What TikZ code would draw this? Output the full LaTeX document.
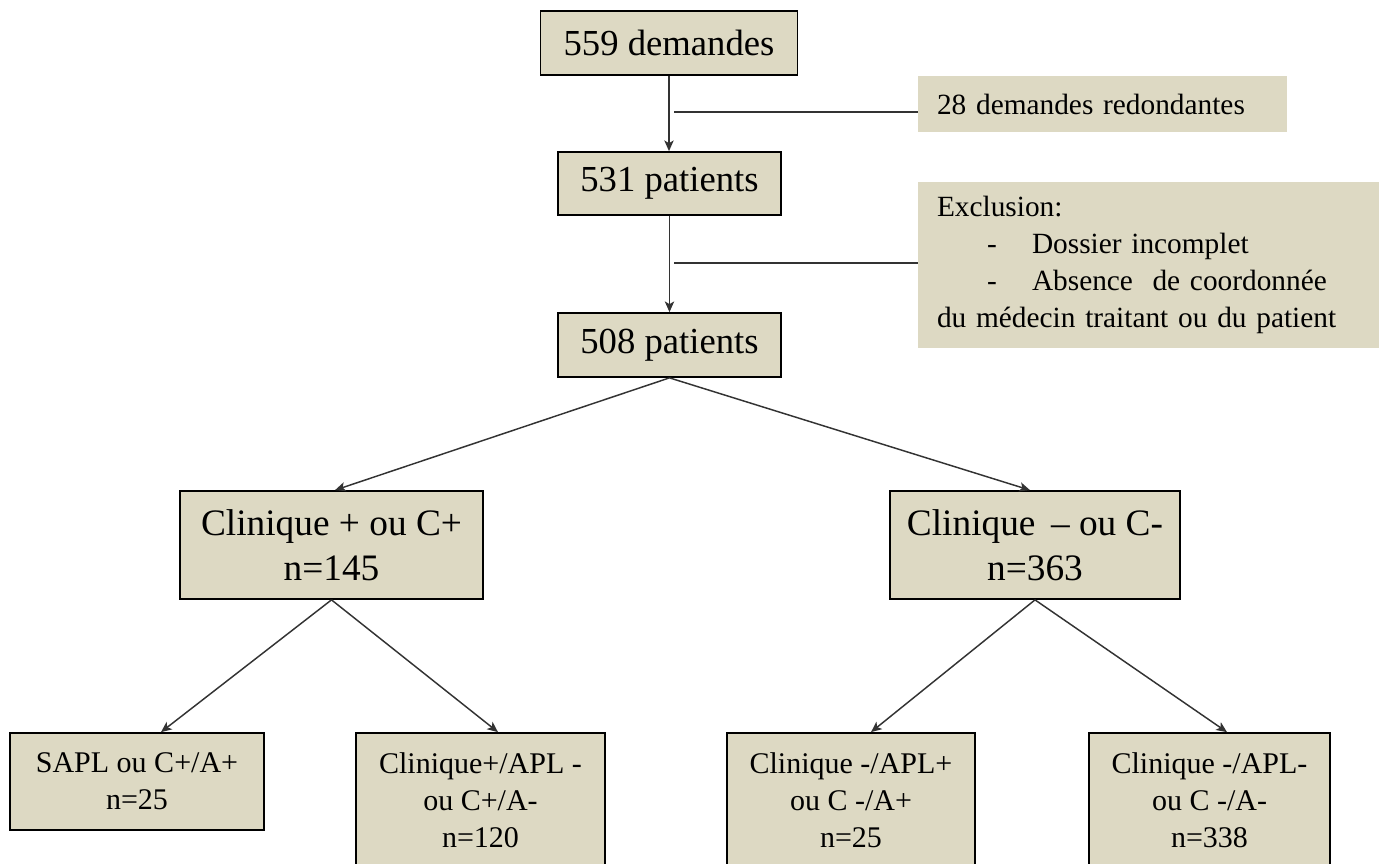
\documentclass[tikz,border=0pt]{standalone}
\usepackage{fontspec}
\setmainfont{Liberation Serif}
\usepackage{xcolor}
\usetikzlibrary{arrows.meta}
\usetikzlibrary{calc}
\definecolor{boxtan}{RGB}{221,217,195}

\begin{document}
\begin{tikzpicture}[x=0.75pt,y=-0.75pt,
  mainbox/.style={draw,line width=1.3pt,fill=boxtan,align=center,inner sep=0pt},
  sidebox/.style={fill=boxtan,align=left,inner xsep=14.25pt,inner ysep=0pt},
  arr/.style={-{Stealth[length=8pt,width=7pt,inset=2pt]},line width=1.1pt,black!80}]
\useasboundingbox (0,0) rectangle (1379,864);
\clip (0,0) rectangle (1379,864);

\node[mainbox,minimum width=192.75pt,minimum height=48pt,font=\fontsize{27.5}{33}\selectfont] (dem) at (669,43) {559 demandes};
\node[mainbox,minimum width=167.25pt,minimum height=47.25pt,font=\fontsize{27.5}{33}\selectfont] (pat531) at (669.5,183.5) {531 patients};
\node[mainbox,minimum width=167.25pt,minimum height=48pt,font=\fontsize{27.5}{33}\selectfont] (pat508) at (669.5,345) {508 patients};

\node[sidebox,text width=248.25pt,minimum height=42pt,font=\fontsize{22}{27.75}\selectfont] (redond) at (1102.5,104) {28 demandes redondantes};
\node[sidebox,text width=317.25pt,minimum height=124.5pt,font=\fontsize{22}{27.75}\selectfont] (excl) at (1148.5,265) {Exclusion:\\
\makebox[71.25pt][l]{\hspace*{37.5pt}-}Dossier incomplet\\
\makebox[71.25pt][l]{\hspace*{37.5pt}-}Absence\ \ de coordonnée\\
du médecin traitant ou du patient};

\node[mainbox,minimum width=227.25pt,minimum height=81pt,font=\fontsize{28}{33.75}\selectfont] (cplus) at (331.5,545) {Clinique + ou C+\\n=145};
\node[mainbox,minimum width=217.5pt,minimum height=81pt,font=\fontsize{28}{33.75}\selectfont] (cmoins) at (1035,545) {Clinique \,– ou C-\\n=363};

\node[mainbox,minimum width=190.5pt,minimum height=72.75pt,font=\fontsize{22.5}{27.75}\selectfont] (capa) at (137,781.5) {SAPL ou C+/A+\\n=25};
\node[mainbox,minimum width=186.75pt,minimum height=100.5pt,font=\fontsize{22.5}{27.75}\selectfont] (capm) at (480.5,800) {Clinique+/APL -\\ou C+/A-\\n=120};
\node[mainbox,minimum width=186pt,minimum height=100.5pt,font=\fontsize{22.5}{27.75}\selectfont] (cmap) at (851,800) {Clinique -/APL+\\ou C -/A+\\n=25};
\node[mainbox,minimum width=180.75pt,minimum height=100.5pt,font=\fontsize{22.5}{27.75}\selectfont] (cmam) at (1209.5,800) {Clinique -/APL-\\ou C -/A-\\n=338};

\coordinate (j1) at (674,112);
\coordinate (j2) at (674,263);

\draw[arr] (dem.south) -- (dem.south |- pat531.north);
\draw[arr] (pat531.south) -- (pat508.north);
\draw[line width=1.1pt,black!80] (j1) -- (j1 -| redond.west);
\draw[line width=1.1pt,black!80] (j2) -- (j2 -| excl.west);

\draw[arr] (pat508.south) -- ($(cplus.north)+(3.5,0)$);
\draw[arr] (pat508.south) -- ($(cmoins.north)+(-5,0)$);

\draw[arr] (cplus.south) -- ($(capa.north)+(24,0)$);
\draw[arr] (cplus.south) -- ($(capm.north)+(17.5,0)$);
\draw[arr] (cmoins.south) -- ($(cmap.north)+(20,0)$);
\draw[arr] (cmoins.south) -- ($(cmam.north)+(17.5,0)$);
\end{tikzpicture}
\end{document}
